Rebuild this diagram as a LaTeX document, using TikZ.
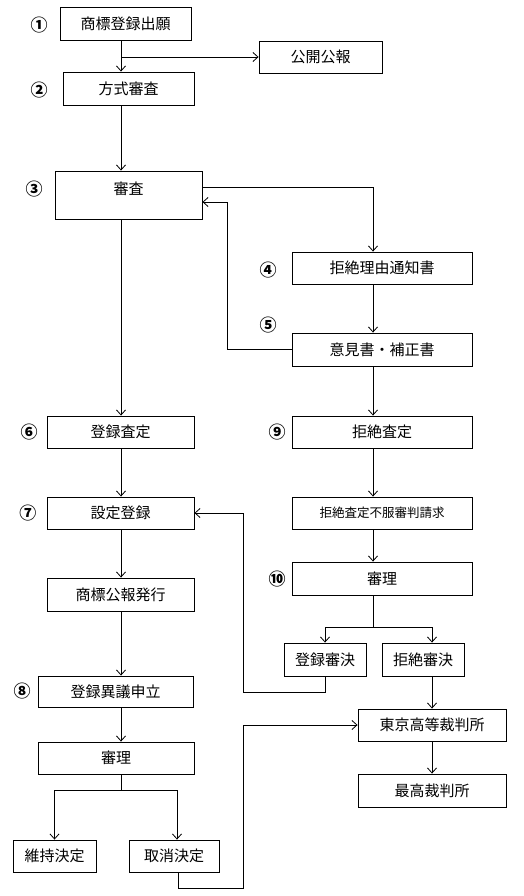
\documentclass[tikz,border=0pt]{standalone}
\usepackage{fontspec}
\setmainfont{Noto Sans CJK JP}
\usetikzlibrary{arrows.meta}
\begin{document}
\begin{tikzpicture}[x=1pt,y=-1pt,
  box/.style={draw,line width=0.9pt,inner sep=0pt,font=\fontsize{15}{15}\selectfont},
  num/.style={inner sep=0pt,font=\fontsize{17}{17}\selectfont\bfseries},
  arr/.style={line width=0.8pt,-{Straight Barb[length=5pt,width=9pt,line width=0.8pt]}},
  ln/.style={line width=0.8pt}]
\useasboundingbox (0,0) rectangle (524,896);
% columns
\coordinate (colL) at (121,0);
\coordinate (colR) at (373,0);
\coordinate (colT) at (432,0);
\coordinate (colC) at (177,0);
\coordinate (colX) at (178,0);
\coordinate (back) at (227,0);
% boxes
\node[box,minimum width=131pt,minimum height=33pt] (n1) at (125.5,23.5) {商標登録出願};
\node[box,minimum width=123pt,minimum height=32pt] (kokai) at (320.5,57) {公開公報};
\node[box,minimum width=131pt,minimum height=33pt] (n2) at (128.5,88.5) {方式審査};
\node[box,minimum width=147pt,minimum height=48pt,text depth=14pt] (n3) at (128.5,195) {審査};
\node[box,minimum width=180pt,minimum height=32pt] (n4) at (382,268) {拒絶理由通知書};
\node[box,minimum width=180pt,minimum height=33pt] (n5) at (382,349.5) {意見書・補正書};
\node[box,minimum width=147pt,minimum height=32pt] (n6) at (120.5,432) {登録査定};
\node[box,minimum width=180pt,minimum height=32pt] (n9) at (382,432) {拒絶査定};
\node[box,minimum width=147pt,minimum height=32pt] (n7) at (120.5,513) {設定登録};
\node[box,minimum width=180pt,minimum height=32pt,font=\fontsize{12.5}{13}\selectfont] (appeal) at (382,513) {拒絶査定不服審判請求};
\node[box,minimum width=147pt,minimum height=33pt] (pub) at (120.5,594.5) {商標公報発行};
\node[box,minimum width=180pt,minimum height=33pt] (n10) at (382,578.5) {審理};
\node[box,minimum width=82pt,minimum height=33pt] (regdec) at (325,659.5) {登録審決};
\node[box,minimum width=82pt,minimum height=33pt] (rejdec) at (423,659.5) {拒絶審決};
\node[box,minimum width=155pt,minimum height=31pt] (n8) at (115.5,691.5) {登録異議申立};
\node[box,minimum width=148pt,minimum height=32pt] (tokyo) at (432,725) {東京高等裁判所};
\node[box,minimum width=148pt,minimum height=33pt] (supreme) at (432,790.5) {最高裁判所};
\node[box,minimum width=156pt,minimum height=32pt] (shinri2) at (116,758) {審理};
\node[box,minimum width=83pt,minimum height=32pt] (keep) at (54.5,856) {維持決定};
\node[box,minimum width=90pt,minimum height=32pt] (cancel) at (174,856) {取消決定};
% numbers
\node[num] (m1) at (39,25) {①};
\node[num] (m2) at (39,90) {②};
\node[num] (m3) at (34,189) {③};
\node[num] (m4) at (268,270) {④};
\node[num] (m5) at (268,325) {⑤};
\node[num] (m6) at (29,432) {⑥};
\node[num] (m7) at (28,513) {⑦};
\node[num] (m8) at (22,691) {⑧};
\node[num] (m9) at (277,432) {⑨};
\node[num] (m10) at (277,579) {⑩};
% helper coordinates
\coordinate (n3out) at ([yshift=8pt]n3.east);
\coordinate (n3in) at ([yshift=-7pt]n3.east);
\coordinate (s10) at (373,627);
\coordinate (ret) at (243,692);
\coordinate (s2) at (121,790);
\coordinate (ret2) at (243,888);
% connectors
\draw[arr] (n1.south -| colL) -- (n2.north -| colL);
\draw[arr] (colL |- kokai.west) -- (kokai.west);
\draw[arr] (n2.south -| colL) -- (n3.north -| colL);
\draw[arr] (n3out) -| (n4.north -| colR);
\draw[arr] (n4.south -| colR) -- (n5.north -| colR);
\draw[arr] (n5.west) -| (back |- n3in) -- (n3in);
\draw[arr] (n3.south -| colL) -- (n6.north -| colL);
\draw[arr] (n5.south -| colR) -- (n9.north -| colR);
\draw[arr] (n6.south -| colL) -- (n7.north -| colL);
\draw[arr] (n9.south -| colR) -- (appeal.north -| colR);
\draw[arr] (appeal.south -| colR) -- (n10.north -| colR);
\draw[arr] (n7.south -| colL) -- (pub.north -| colL);
\draw[arr] (pub.south -| colL) -- (n8.north -| colL);
\draw[arr] (n8.south -| colL) -- (shinri2.north -| colL);
\draw[ln] (n10.south -| colR) -- (s10);
\draw[arr] (s10) -| (regdec.north);
\draw[arr] (s10) -| (rejdec.north -| colT);
\draw[arr] (regdec.south) |- (ret) |- (n7.east);
\draw[arr] (rejdec.south -| colT) -- (tokyo.north);
\draw[arr] (tokyo.south) -- (supreme.north);
\draw[ln] (shinri2.south -| colL) -- (s2);
\draw[arr] (s2) -| (keep.north);
\draw[arr] (s2) -| (cancel.north -| colC);
\draw[arr] (cancel.south -| colX) |- (ret2) |- (tokyo.west);
\end{tikzpicture}
\end{document}
